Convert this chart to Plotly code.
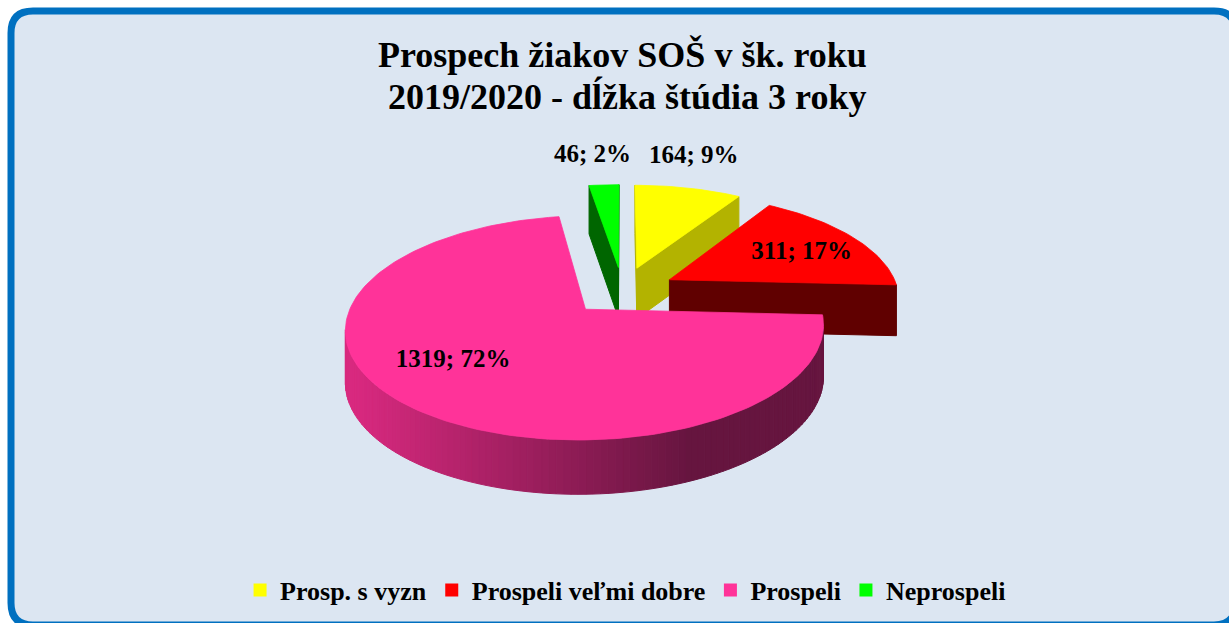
import numpy as np
import plotly.graph_objects as go

# ---------------- data ----------------
categories = ["Prosp. s vyzn", "Prospeli veľmi dobre", "Prospeli", "Neprospeli"]
values = [164, 311, 1319, 46]
pct_labels = [9, 17, 72, 2]

title_lines = ["Prospech žiakov SOŠ v šk. roku", "2019/2020 - dĺžka štúdia 3 roky"]

# ---------------- style ----------------
top_colors = ["#FFFF00", "#FF0000", "#FF3399", "#00FF00"]
side_colors = ["#B3B300", "#600000", "gradient", "#006600"]
label_angle_offset = [-3.0, 3.0, 7.3, -1.4]
label_radius = [1.457, 0.685, 0.672, 1.44]

W, HGT = 1229, 623
D, RX, RY, DEPTH = 6.2, 229.0, 103.0, 51.0
CX, CY = 622.5, 290.7
EXPLODE = 0.235
FONT = "Liberation Serif"


def proj(u, v, d=0.0):
    u = np.asarray(u, float)
    v = np.asarray(v, float)
    s = D / (D + v)
    return CX + RX * u * s, CY - RY * v * s + d * DEPTH * s ** 0.3


def pink_grad(x):
    t = min(max((x - 357.0) / (690.0 - 357.0), 0.0), 1.0)
    a = np.array([0xD8, 0x29, 0x7F])
    b = np.array([0x66, 0x15, 0x3F])
    c = a + (b - a) * t
    return "rgb(%d,%d,%d)" % tuple(int(round(z)) for z in c)


def shoelace(xs, ys):
    s = 0.0
    n = len(xs)
    for i in range(n):
        j = (i + 1) % n
        s += xs[i] * ys[j] - xs[j] * ys[i]
    return s


total = float(sum(values))
walls = []   # (depth_key, xs, ys, color)
tops = []
labels = []

start = 0.0
for i, val in enumerate(values):
    span = 360.0 * val / total
    a0, a1 = start, start + span
    mid = np.radians((a0 + a1) / 2)
    ou, ov = EXPLODE * np.sin(mid), EXPLODE * np.cos(mid)
    n = max(int(span / 1.5), 2)
    th = np.radians(np.linspace(a0, a1, n + 1))
    au = ou + np.sin(th)
    av = ov + np.cos(th)

    # top face
    tu = np.concatenate([[ou], au, [ou]])
    tv = np.concatenate([[ov], av, [ov]])
    tx, ty = proj(tu, tv, 0)
    tops.append((tx, ty, top_colors[i]))

    # boundary traversal: apex -> arc -> apex
    for k in range(len(tu) - 1):
        pu, pv = tu[k], tv[k]
        qu, qv = tu[k + 1], tv[k + 1]
        x0, y0 = proj([pu, qu], [pv, qv], 0)
        x1, y1 = proj([pu, qu], [pv, qv], 1)
        xs = [x0[0], x0[1], x1[1], x1[0]]
        ys = [y0[0], y0[1], y1[1], y1[0]]
        if shoelace(xs, ys) >= -1e-6:
            continue
        if side_colors[i] == "gradient":
            col = pink_grad(np.mean(xs))
        else:
            col = side_colors[i]
        walls.append(((pv + qv) / 2, xs, ys, col))

    # label
    la = np.radians((a0 + a1) / 2 + label_angle_offset[i])
    lu = ou + label_radius[i] * np.sin(la)
    lv = ov + label_radius[i] * np.cos(la)
    lx, ly = proj([lu], [lv], 0)
    labels.append((float(lx[0]), float(ly[0]), "%d; %d%%" % (val, pct_labels[i])))
    start = a1

fig = go.Figure()

walls.sort(key=lambda w: -w[0])
for _, xs, ys, col in walls:
    fig.add_trace(go.Scatter(
        x=xs + [xs[0]], y=ys + [ys[0]], mode="lines", fill="toself",
        fillcolor=col, line=dict(color=col, width=1),
        hoverinfo="skip", showlegend=False))

for tx, ty, col in tops:
    fig.add_trace(go.Scatter(
        x=list(tx), y=list(ty), mode="lines", fill="toself",
        fillcolor=col, line=dict(color=col, width=0.8),
        hoverinfo="skip", showlegend=False))

fig.add_trace(go.Scatter(
    x=[l[0] for l in labels], y=[l[1] for l in labels],
    text=[l[2] for l in labels], mode="text",
    textfont=dict(family=FONT, size=25, color="black", weight="bold"),
    textposition="middle center", hoverinfo="skip", showlegend=False))

for name, col in zip(categories, top_colors):
    fig.add_trace(go.Scatter(
        x=[None], y=[None], mode="markers", name=name,
        marker=dict(symbol="square", size=13, color=col)))

# rounded frame
x0, y0, x1, y1, r = 11, 11, 1236, 625, 22
path = (f"M {x0+r},{y0} L {x1-r},{y0} Q {x1},{y0} {x1},{y0+r} "
        f"L {x1},{y1-r} Q {x1},{y1} {x1-r},{y1} L {x0+r},{y1} "
        f"Q {x0},{y1} {x0},{y1-r} L {x0},{y0+r} Q {x0},{y0} {x0+r},{y0} Z")

fig.update_layout(
    width=W, height=HGT,
    margin=dict(l=0, r=0, t=0, b=0),
    paper_bgcolor="white",
    plot_bgcolor="rgba(0,0,0,0)",
    xaxis=dict(range=[0, W], visible=False, fixedrange=True),
    yaxis=dict(range=[HGT, 0], visible=False, fixedrange=True),
    shapes=[dict(type="path", path=path, xref="x", yref="y",
                 fillcolor="#DCE6F2", line=dict(color="#0070C0", width=7),
                 layer="below")],
    annotations=[
        dict(x=622, y=55, xref="x", yref="y", text=title_lines[0],
             showarrow=False, xanchor="center", yanchor="middle",
             font=dict(family=FONT, size=36, color="black", weight="bold")),
        dict(x=627, y=96, xref="x", yref="y", text=title_lines[1],
             showarrow=False, xanchor="center", yanchor="middle",
             font=dict(family=FONT, size=36, color="black", weight="bold")),
    ],
    legend=dict(orientation="h", x=0.509, xanchor="center",
                y=1 - 590 / HGT, yanchor="middle",
                bgcolor="rgba(0,0,0,0)",
                font=dict(family=FONT, size=26, color="black", weight="bold"),
                itemwidth=30),
)

fig.write_html(
    "out.html",
    config={"displayModeBar": False},
    post_script="document.body.style.margin='0px';"
                "document.body.style.overflow='hidden';")
